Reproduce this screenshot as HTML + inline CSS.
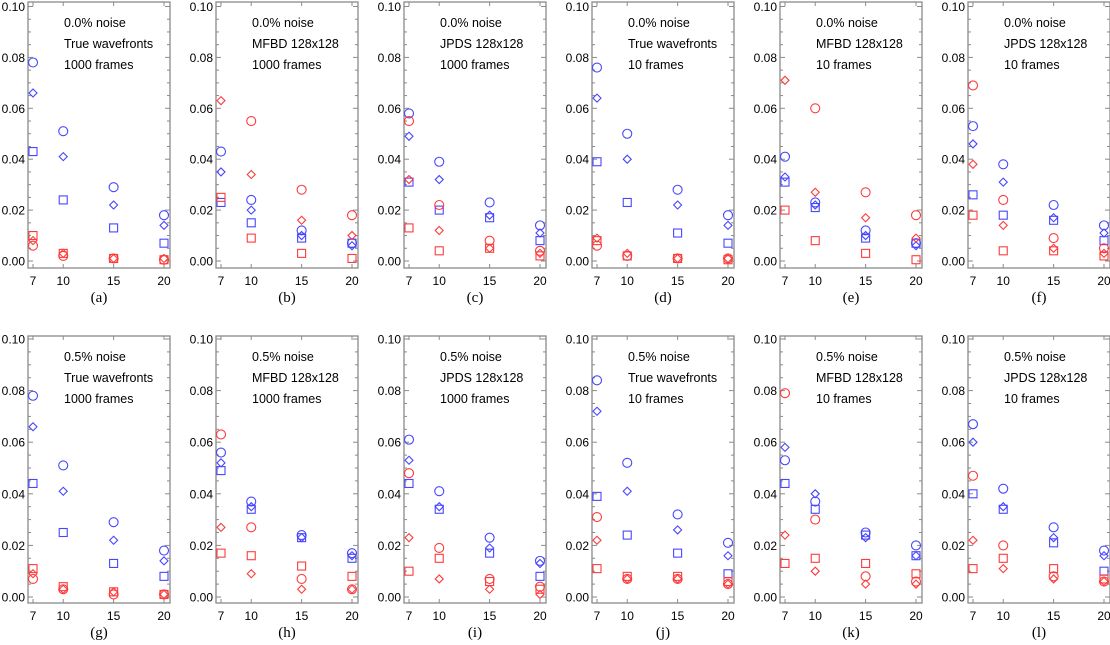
<!DOCTYPE html>
<html><head><meta charset="utf-8"><style>
html,body{margin:0;padding:0;background:#fff;width:1110px;height:645px;overflow:hidden}
svg{display:block}
</style></head><body>
<svg id="fig" width="1110" height="645" xmlns="http://www.w3.org/2000/svg"></svg>
<script>
const xCats=[7,10,15,20];
const yTicks=[0,0.02,0.04,0.06,0.08,0.10];
const yTickLabels=["0.00","0.02","0.04","0.06","0.08","0.10"];
const panelLetters=["a","b","c","d","e","f","g","h","i","j","k","l"];
const noiseLabels=["0.0% noise","0.0% noise","0.0% noise","0.0% noise","0.0% noise","0.0% noise","0.5% noise","0.5% noise","0.5% noise","0.5% noise","0.5% noise","0.5% noise"];
const methodLabels=["True wavefronts","MFBD 128x128","JPDS 128x128","True wavefronts","MFBD 128x128","JPDS 128x128","True wavefronts","MFBD 128x128","JPDS 128x128","True wavefronts","MFBD 128x128","JPDS 128x128"];
const frameLabels=["1000 frames","1000 frames","1000 frames","10 frames","10 frames","10 frames","1000 frames","1000 frames","1000 frames","10 frames","10 frames","10 frames"];
const blueCircle=[[0.078,0.051,0.029,0.018],[0.043,0.024,0.012,0.007],[0.058,0.039,0.023,0.014],[0.076,0.050,0.028,0.018],[0.041,0.023,0.012,0.007],[0.053,0.038,0.022,0.014],
[0.078,0.051,0.029,0.018],[0.056,0.037,0.024,0.017],[0.061,0.041,0.023,0.014],[0.084,0.052,0.032,0.021],[0.053,0.037,0.025,0.020],[0.067,0.042,0.027,0.018]];
const blueDiamond=[[0.066,0.041,0.022,0.014],[0.035,0.020,0.010,0.006],[0.049,0.032,0.018,0.011],[0.064,0.040,0.022,0.014],[0.033,0.022,0.010,0.006],[0.046,0.031,0.017,0.011],
[0.066,0.041,0.022,0.014],[0.052,0.035,0.023,0.016],[0.053,0.035,0.019,0.013],[0.072,0.041,0.026,0.016],[0.058,0.040,0.023,0.016],[0.060,0.035,0.023,0.016]];
const blueSquare=[[0.043,0.024,0.013,0.007],[0.023,0.015,0.009,0.007],[0.031,0.020,0.017,0.008],[0.039,0.023,0.011,0.007],[0.031,0.021,0.009,0.007],[0.026,0.018,0.016,0.008],
[0.044,0.025,0.013,0.008],[0.049,0.034,0.023,0.015],[0.044,0.034,0.017,0.008],[0.039,0.024,0.017,0.009],[0.044,0.034,0.024,0.016],[0.040,0.034,0.021,0.010]];
const redCircle=[[0.006,0.002,0.001,0.0005],[null,0.055,0.028,0.018],[0.055,0.022,0.008,0.004],[0.006,0.002,0.001,0.001],[null,0.060,0.027,0.018],[0.069,0.024,0.009,0.005],
[0.007,0.003,0.001,0.001],[0.063,0.027,0.007,0.003],[0.048,0.019,0.007,0.004],[0.031,0.007,0.007,0.005],[0.079,0.030,0.008,0.006],[0.047,0.020,0.008,0.006]];
const redDiamond=[[0.008,0.003,0.001,0.001],[0.063,0.034,0.016,0.010],[0.032,0.012,0.005,0.003],[0.009,0.003,0.001,0.001],[0.071,0.027,0.017,0.009],[0.038,0.014,0.005,0.003],
[0.009,0.003,0.002,0.001],[0.027,0.009,0.003,0.003],[0.023,0.007,0.003,0.001],[0.022,0.007,0.007,0.005],[0.024,0.010,0.005,0.005],[0.022,0.011,0.007,0.006]];
const redSquare=[[0.010,0.003,0.001,0.0005],[0.025,0.009,0.003,0.001],[0.013,0.004,0.005,0.002],[0.008,0.002,0.001,0.0005],[0.020,0.008,0.003,0.0005],[0.018,0.004,0.004,0.002],
[0.011,0.004,0.002,0.001],[0.017,0.016,0.012,0.008],[0.010,0.015,0.006,0.003],[0.011,0.008,0.008,0.006],[0.013,0.015,0.013,0.009],[0.011,0.015,0.011,0.007]];

const NS="http://www.w3.org/2000/svg";
const svg=document.getElementById('fig');
function el(tag,attrs,parent){const e=document.createElementNS(NS,tag);for(const k in attrs)e.setAttribute(k,attrs[k]);(parent||svg).appendChild(e);return e;}
const BLUE="#4646ff",RED="#ff3a3a";
for(let p=0;p<12;p++){
  const col=p%6,row=Math.floor(p/6);
  const L=28+col*188,R=L+142;
  const T=row?336:2,B=row?603:268;
  const Y0=row?597:261,Y1=row?339:6.5;
  const xs=v=>L+5+(v-7)*(131/13);
  const ys=v=>Y0+(Y1-Y0)*(v/0.1);
  const g=el('g',{});
  
  
  const box=el('rect',{x:L,y:T,width:R-L,height:B-T,fill:'none',stroke:'#8a8a8a','stroke-width':1.3},g);
  
  
  for(let k=0;k<=20;k++){
    const v=k*0.005,y=ys(v),len=(k%4===0)?5:3;
    el('line',{x1:L,y1:y,x2:L+len,y2:y,stroke:'#8a8a8a','stroke-width':1},g);
    el('line',{x1:R,y1:y,x2:R-len,y2:y,stroke:'#8a8a8a','stroke-width':1},g);
  }
  yTicks.forEach((v,i)=>{
    const t=el('text',{x:L-3,y:ys(v)+4.5,'text-anchor':'end','font-family':'Liberation Sans, sans-serif','font-size':12,fill:'#000'},g);
    t.textContent=yTickLabels[i];
    
    
  });
  xCats.forEach(v=>{
    const x=xs(v);
    el('line',{x1:x,y1:B,x2:x,y2:B-4,stroke:'#8a8a8a','stroke-width':1},g);
    el('line',{x1:x,y1:T,x2:x,y2:T+4,stroke:'#8a8a8a','stroke-width':1},g);
    const t=el('text',{x:x,y:B+17,'text-anchor':'middle','font-family':'Liberation Sans, sans-serif','font-size':12,fill:'#000'},g);
    t.textContent=String(v);
    
    
  });
  [noiseLabels[p],methodLabels[p],frameLabels[p]].forEach((s,i)=>{
    const t=el('text',{x:L+36,y:T+25+i*21,'font-family':'Liberation Sans, sans-serif','font-size':12.5,fill:'#000'},g);
    t.textContent=s;
    
    
  });
  const cap=el('text',{x:(L+R)/2,y:B+34,'text-anchor':'middle','font-family':'Liberation Serif, serif','font-size':15,fill:'#000'},g);
  cap.textContent='('+panelLetters[p]+')';
  
  
  const series=[[blueCircle,'c',BLUE],[blueDiamond,'d',BLUE],[blueSquare,'s',BLUE],[redCircle,'c',RED],[redDiamond,'d',RED],[redSquare,'s',RED]];
  series.forEach(([arr,shape,color])=>{
    arr[p].forEach((v,i)=>{
      if(v===null||v>0.1)return;
      const x=xs(xCats[i]),y=ys(v);let m;
      if(shape==='c')m=el('circle',{cx:x,cy:y,r:4.5,fill:'none',stroke:color,'stroke-width':1.1},g);
      else if(shape==='d')m=el('polygon',{points:`${x},${y-4} ${x+4},${y} ${x},${y+4} ${x-4},${y}`,fill:'none',stroke:color,'stroke-width':1.1},g);
      else m=el('rect',{x:x-4,y:y-4,width:8,height:8,fill:'none',stroke:color,'stroke-width':1.1},g);
      
      
    });
  });
}
</script>
</body></html>
